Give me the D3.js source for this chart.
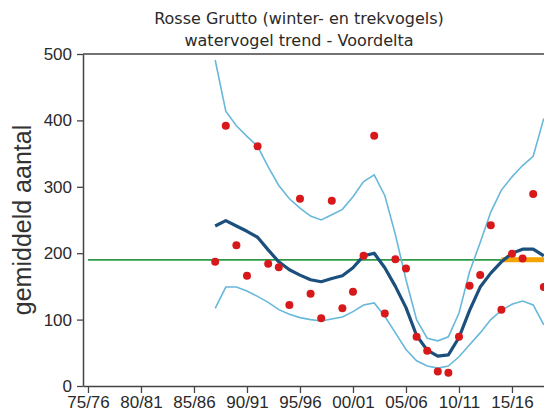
<!DOCTYPE html>
<html>
<head>
<meta charset="utf-8">
<script src="https://cdn.jsdelivr.net/npm/d3@7/dist/d3.min.js"></script>
<style>
  html, body { margin: 0; padding: 0; background: #fff; }
  svg { display: block; }
</style>
</head>
<body>
<script>
// Seasons (first year of winter season) and counts
const years = [1987, 1988, 1989, 1990, 1991, 1992, 1993, 1994, 1995, 1996,
               1997, 1998, 1999, 2000, 2001, 2002, 2003, 2004, 2005, 2006,
               2007, 2008, 2009, 2010, 2011, 2012, 2013, 2014, 2015, 2016,
               2017, 2018];
const counts = [187, 392, 212, 166, 361, 184, 179, 122, 282, 139,
                102, 279, 117, 142, 196, 377, 109, 191, 177, 74,
                53, 22, 20, 74, 151, 167, 242, 115, 199, 192,
                289, 149];
const trend = [241, 249, 241, 233, 224, 205, 187, 175, 167, 160,
               157, 162, 166, 178, 196, 200, 178, 150, 118, 76,
               54, 45, 47, 73, 114, 149, 170, 187, 200, 206,
               206, 196];
const upper = [491, 414, 392, 376, 361, 330, 302, 282, 268, 256,
               250, 258, 266, 285, 308, 318, 287, 228, 160, 100,
               72, 68, 74, 110, 172, 216, 262, 295, 315, 332,
               346, 403];
const lower = [117, 149, 149, 143, 135, 126, 115, 108, 103, 100,
               98, 101, 104, 112, 122, 125, 105, 80, 55, 38,
               30, 27, 30, 44, 62, 80, 100, 114, 123, 128,
               122, 92];

// Reference level: long-term mean and the recent-period mean
const refLevel = 190;
const refSpan = [1975, 2014];
const recentSpan = [2014, 2019];

const tickYears = [1975, 1980, 1985, 1990, 1995, 2000, 2005, 2010, 2015];
const tickLabels = ["75/76", "80/81", "85/86", "90/91", "95/96", "00/01", "05/06", "10/11", "15/16"];
const yTicks = [0, 100, 200, 300, 400, 500];

const W = 544, H = 416;
const plot = { left: 83, top: 54, bottom: 386, right: 544 };

const svg = d3.select("body").append("svg")
  .attr("width", W).attr("height", H);

const x = d3.scaleLinear().domain([1974.53, 2018.02]).range([plot.left, plot.right]);
const y = d3.scaleLinear().domain([0, 500]).range([plot.bottom, plot.top]);

svg.append("defs").append("clipPath").attr("id", "plotclip")
  .append("rect").attr("x", plot.left).attr("y", 0)
  .attr("width", plot.right - plot.left).attr("height", H);

// Title
const title = svg.append("g")
  .attr("font-family", "'DejaVu Sans', sans-serif")
  .attr("font-size", 16)
  .attr("fill", "#2a2a2a")
  .attr("text-anchor", "middle");
title.append("text").attr("x", 299).attr("y", 24).text("Rosse Grutto (winter- en trekvogels)");
title.append("text").attr("x", 299).attr("y", 46).text("watervogel trend - Voordelta");

// Y axis title
svg.append("text")
  .attr("transform", "translate(31,220) rotate(-90)")
  .attr("text-anchor", "middle")
  .attr("font-family", "'Liberation Sans', Arial, sans-serif")
  .attr("font-size", 25)
  .attr("fill", "#333")
  .text("gemiddeld aantal");

const g = svg.append("g").attr("clip-path", "url(#plotclip)");

// Reference lines
const refLine = d3.line().x(d => x(d)).y(() => y(refLevel));
g.append("path").attr("d", refLine(refSpan))
  .attr("fill", "none").attr("stroke", "#2e9a48").attr("stroke-width", 1.6);
g.append("path").attr("d", refLine(recentSpan))
  .attr("fill", "none").attr("stroke", "#f5a300").attr("stroke-width", 5);

// Confidence band edges
const line = d3.line().x((d, i) => x(years[i])).y(d => y(d));
[upper, lower].forEach(s => {
  g.append("path").attr("d", line(s))
    .attr("fill", "none").attr("stroke", "#68b8da").attr("stroke-width", 1.6);
});

// Trend
g.append("path").attr("d", line(trend))
  .attr("fill", "none").attr("stroke", "#1b4f7c").attr("stroke-width", 3.2)
  .attr("stroke-linejoin", "round");

// Yearly counts
g.selectAll("circle.count").data(counts).enter().append("circle")
  .attr("class", "count")
  .attr("cx", (d, i) => x(years[i]))
  .attr("cy", d => y(d))
  .attr("r", 4)
  .attr("fill", "#d7191c");

// Frame top
svg.append("line")
  .attr("x1", plot.left).attr("x2", plot.right)
  .attr("y1", plot.top).attr("y2", plot.top)
  .attr("stroke", "#444").attr("stroke-width", 1.5);

// Axes
const yAxis = svg.append("g")
  .attr("transform", `translate(${plot.left},0)`)
  .call(d3.axisLeft(y).tickValues(yTicks).tickSize(6).tickPadding(5).tickSizeOuter(0));
const xAxis = svg.append("g")
  .attr("transform", `translate(0,${plot.bottom})`)
  .call(d3.axisBottom(x).tickValues(tickYears)
    .tickFormat((d, i) => tickLabels[i]).tickSize(7).tickPadding(3).tickSizeOuter(0));

[yAxis, xAxis].forEach(a => {
  a.select(".domain").attr("stroke", "#444").attr("stroke-width", 1.5);
  a.selectAll(".tick line").attr("stroke", "#444").attr("stroke-width", 1.3);
  a.selectAll(".tick text")
    .attr("font-family", "'Liberation Sans', Arial, sans-serif")
    .attr("font-size", 17)
    .attr("fill", "#2a2a2a");
});
</script>
</body>
</html>
